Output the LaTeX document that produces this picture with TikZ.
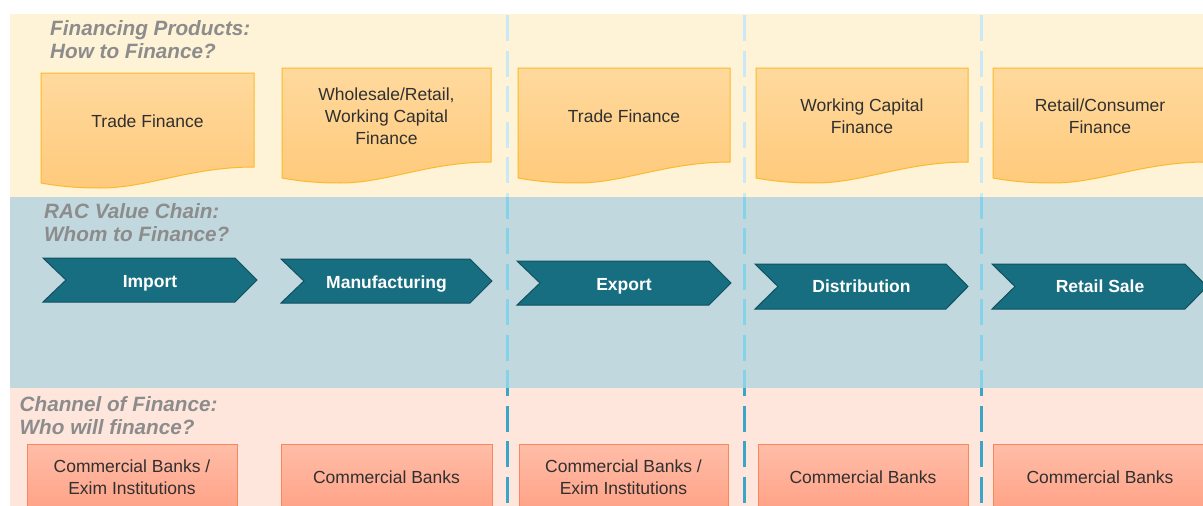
\documentclass[tikz,border=0pt]{standalone}
\usepackage{fontspec}
\setmainfont{Liberation Sans}
\definecolor{bandY}{HTML}{FEF2D7}
\definecolor{bandB}{HTML}{C1D8DF}
\definecolor{bandP}{HTML}{FEE6DD}
\definecolor{dashY}{HTML}{C8E9F5}
\definecolor{dashB}{HTML}{84D3E8}
\definecolor{dashP}{HTML}{3AA5C5}
\definecolor{doctop}{HTML}{FFD99D}
\definecolor{docbot}{HTML}{FFCA7C}
\definecolor{docline}{HTML}{FBBA2A}
\definecolor{chevfill}{HTML}{176E80}
\definecolor{chevline}{HTML}{11505F}
\definecolor{banktop}{HTML}{FFBDA8}
\definecolor{bankbot}{HTML}{FF9A7C}
\definecolor{bankline}{HTML}{F8875E}
\definecolor{titlegray}{HTML}{8C8C8C}
\definecolor{txtdark}{HTML}{303030}
\newcommand\bxfont{\fontsize{17.5}{22}\selectfont}
\newcommand\ttlfont{\fontsize{20.7}{23}\selectfont}
\newcommand\docshape[4]{%
  \pgfmathsetmacro\dw{#2-#1}%
  \pgfmathsetmacro\xm{#1+0.28*\dw}%
  \pgfmathsetmacro\ca{#2-0.3*\dw}%
  \pgfmathsetmacro\cb{\xm+0.22*\dw}%
  \pgfmathsetmacro\cc{\xm-0.12*\dw}%
  \pgfmathsetmacro\cd{#1+0.08*\dw}%
  \path[doc] (#1,#3) -- (#2,#3) -- (#2,#4) .. controls (\ca,#4) and (\cb,#4+21) .. (\xm,#4+21) .. controls (\cc,#4+21) and (\cd,#4+19) .. (#1,#4+16) -- cycle;}
\newcommand\chevshape[4]{%
  \pgfmathsetmacro\ymid{(#3+#4)/2}%
  \path[chev] (#1,#3) -- (#2-22,#3) -- (#2,\ymid) -- (#2-22,#4) -- (#1,#4) -- (#1+23,\ymid) -- cycle;}
\tikzset{
  doc/.style={draw=docline, line width=1pt, top color=doctop, bottom color=docbot},
  chev/.style={draw=chevline, line width=1pt, fill=chevfill},
  bank/.style={draw=bankline, line width=1pt, top color=banktop, bottom color=bankbot},
  ttl/.style={font=\ttlfont\bfseries\itshape, text=titlegray, align=left, inner sep=0pt, anchor=north west},
  boxtxt/.style={font=\bxfont, text=txtdark, align=center, inner sep=0pt},
  chevtxt/.style={font=\bxfont\bfseries, text=white, inner sep=0pt, anchor=base},
  dl/.style={line width=3pt, dash pattern=on 26pt off 9.5pt}
}
\begin{document}
\begin{tikzpicture}[x=1pt,y=-1pt]
\useasboundingbox (0,0) rectangle (1203,506);
\clip (0,0) rectangle (1203,506);
\fill[white] (0,0) rectangle (1203,506);
% bands
\fill[bandY] (10,14) rectangle (1203,197);
\fill[bandB] (10,197) rectangle (1203,388);
\fill[bandP] (10,388) rectangle (1203,506);
% dashed separators
\begin{scope}
  \clip (10,14) rectangle (1203,197);
  \foreach \xx in {507,744,981} \draw[dl, draw=dashY] (\xx,15) -- (\xx,506);
\end{scope}
\begin{scope}
  \clip (10,197) rectangle (1203,388);
  \foreach \xx in {507,744,981} \draw[dl, draw=dashB] (\xx,15) -- (\xx,506);
\end{scope}
\begin{scope}
  \clip (10,388) rectangle (1203,506);
  \foreach \xx in {507,744,981} \draw[dl, draw=dashP] (\xx,15) -- (\xx,506);
\end{scope}
% titles
\node[ttl] (t1) at (50,20) {Financing Products:\\How to Finance?};
\node[ttl] (t2) at (44,203) {RAC Value Chain:\\Whom to Finance?};
\node[ttl] (t3) at (19.5,396.6) {Channel of Finance:\\Who will finance?};
% financing products
\docshape{41}{254}{73}{167}
\docshape{282}{491}{68}{162}
\docshape{518}{730}{68}{162}
\docshape{756}{968}{68}{162}
\docshape{993}{1207}{68}{162}
\node[boxtxt] (p1) at (147.5,121) {Trade Finance};
\node[boxtxt] (p2) at (386.5,116) {Wholesale/Retail,\\Working Capital\\Finance};
\node[boxtxt] (p3) at (624,116) {Trade Finance};
\node[boxtxt] (p4) at (862,116) {Working Capital\\Finance};
\node[boxtxt] (p5) at (1100,116) {Retail/Consumer\\Finance};
% value chain
\chevshape{43}{257}{258}{302}
\chevshape{281}{492}{259}{303}
\chevshape{517}{731}{261}{305}
\chevshape{755}{968}{264}{309}
\chevshape{992}{1207}{264}{309}
\node[chevtxt] (c1) at (150,287) {Import};
\node[chevtxt] (c2) at (386.5,288) {Manufacturing};
\node[chevtxt] (c3) at (624,290) {Export};
\node[chevtxt] (c4) at (861.5,292.5) {Distribution};
\node[chevtxt] (c5) at (1100,292.5) {Retail Sale};
% channels
\path[bank] (27,444) rectangle (237,530);
\path[bank] (281,444) rectangle (492,530);
\path[bank] (519,444) rectangle (728,530);
\path[bank] (758,444) rectangle (968,530);
\path[bank] (993,444) rectangle (1215,530);
\node[boxtxt] (b1) at (132,477) {Commercial Banks /\\Exim Institutions};
\node[boxtxt] (b2) at (386.5,477) {Commercial Banks};
\node[boxtxt] (b3) at (623.5,477) {Commercial Banks /\\Exim Institutions};
\node[boxtxt] (b4) at (863,477) {Commercial Banks};
\node[boxtxt] (b5) at (1100,477) {Commercial Banks};
\end{tikzpicture}
\end{document}
